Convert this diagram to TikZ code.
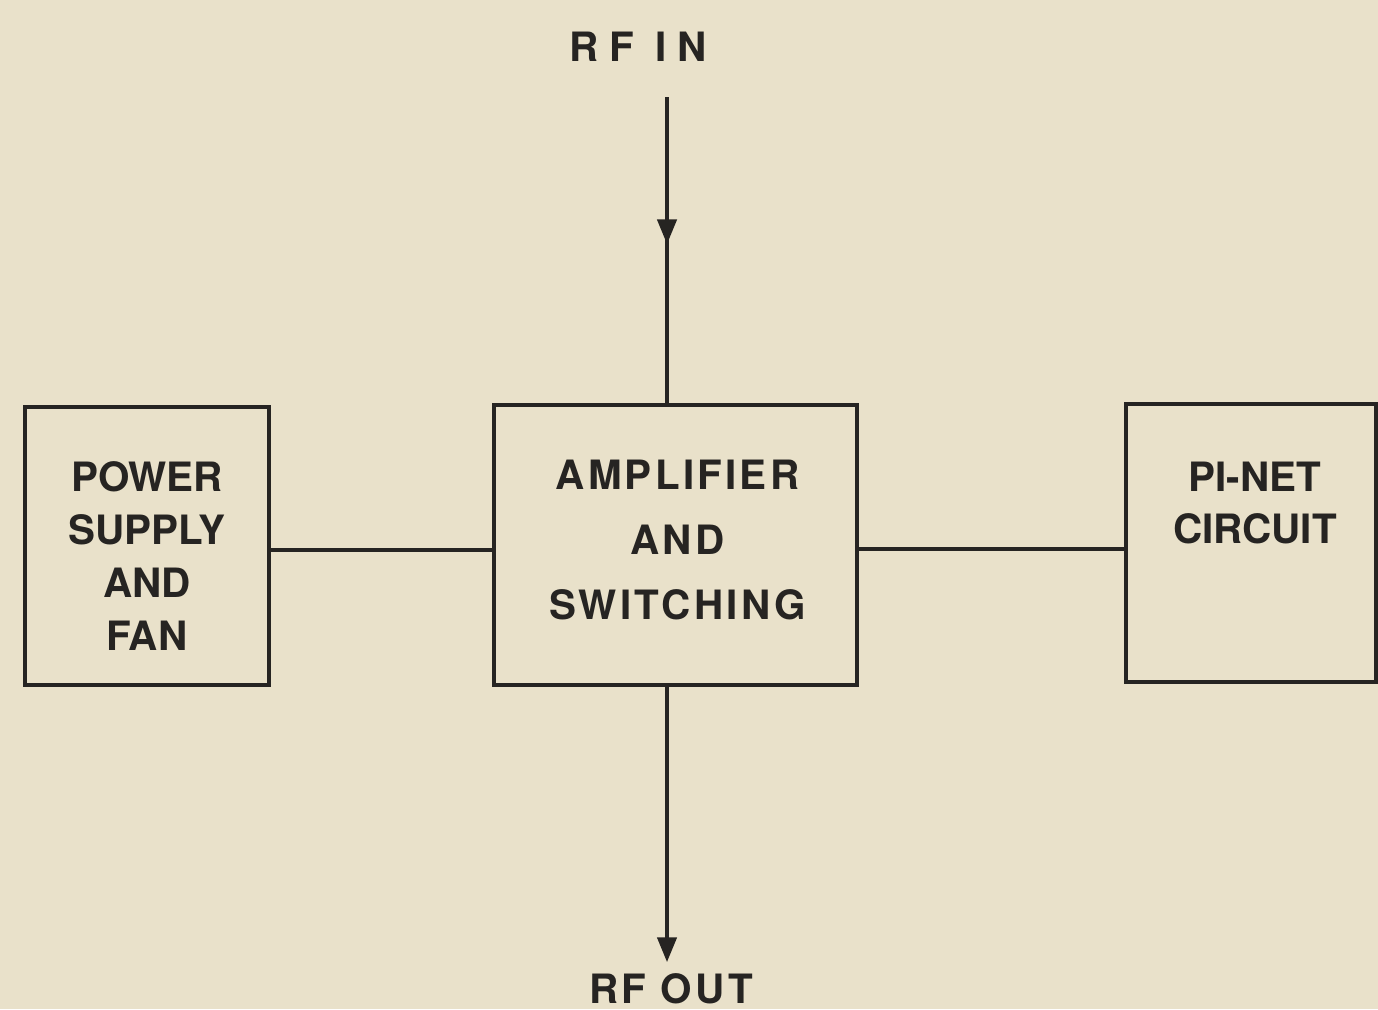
\documentclass[tikz,border=0pt]{standalone}
\usepackage{fontspec}
\setmainfont{TeX Gyre Heros}
\newfontfamily\widefont[LetterSpace=8]{TeX Gyre Heros}
\newfontfamily\widerfont[LetterSpace=26]{TeX Gyre Heros}
\usetikzlibrary{arrows.meta}
\usetikzlibrary{positioning}
\usetikzlibrary{decorations.markings}
\definecolor{paper}{HTML}{E9E1CA}
\definecolor{ink}{HTML}{262422}

\begin{document}
\begin{tikzpicture}[
  blockbox/.style={draw=ink, line width=0.9pt, fill=paper, inner sep=0pt},
  wire/.style={draw=ink, line width=0.9pt},
  midarrow/.style={postaction={decorate},
    decoration={markings, mark=at position #1 with {\arrow{Triangle[length=7pt,width=5.5pt]}}}},
  font=\fontsize{11.5}{15}\selectfont\bfseries, text=ink]

  % Hintergrund
  \fill[paper] (0,0) rectangle (13.78,10.09);
  \useasboundingbox (0,0) rectangle (13.78,10.09);

  % Bloecke
  \node (power) [blockbox, minimum width=2.44cm, minimum height=2.78cm] at (1.47,4.63) {};
  \node (amp) [blockbox, minimum width=3.63cm, minimum height=2.80cm] at (6.755,4.64) {};
  \node (pinet) [blockbox, minimum width=2.50cm, minimum height=2.78cm] at (12.51,4.66) {};

  \node (powertxt) [align=center] at ([yshift=-1mm]power) {POWER\\SUPPLY\\AND\\FAN};
  \node (amptxt) [align=center, font=\widefont\bfseries\fontsize{11.5}{18.4}\selectfont]
    at ([xshift=0.2mm,yshift=0.5mm]amp) {AMPLIFIER\\AND\\SWITCHING};
  \node (pinettxt) [align=center] at (12.55,5.06) {PI-NET\\CIRCUIT};

  % Ein- und Ausgang
  \node (rfintxt) [font=\widerfont\bfseries\fontsize{11.5}{15}\selectfont] at (6.38,9.62) {RF IN};
  \node (rfouttxt) [font=\widefont\bfseries\fontsize{11.5}{15}\selectfont] at (6.71,0.2) {RF OUT};
  \coordinate (rfin) at (6.67,9.12);
  \coordinate (rfout) at (6.67,0.47);

  % Verbindungen
  \draw[wire, midarrow=0.48] (rfin) -- (rfin |- amp.north);
  \draw[wire, -{Triangle[length=7pt,width=5.5pt]}] (amp.south -| rfout) -- (rfout);
  \draw[wire] ([yshift=-0.4mm]power.east) -- ([yshift=-0.4mm]power.east -| amp.west);
  \draw[wire] ([yshift=-0.4mm]amp.east) -- ([yshift=-0.4mm]amp.east -| pinet.west);
\end{tikzpicture}
\end{document}
